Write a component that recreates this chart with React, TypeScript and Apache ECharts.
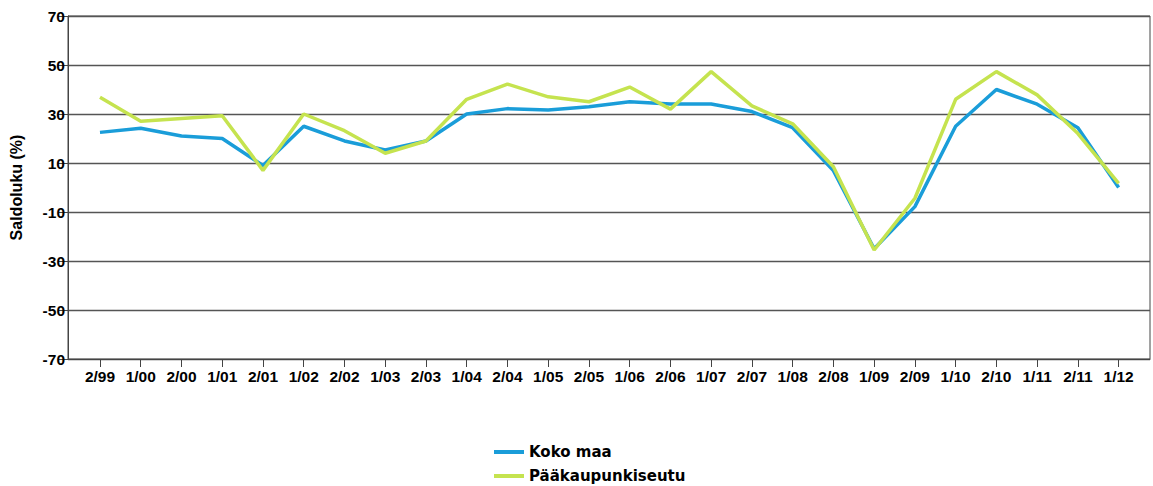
import React, { useEffect, useRef } from "react";
import * as echarts from "echarts";

const categories = ["2/99","1/00","2/00","1/01","2/01","1/02","2/02","1/03","2/03","1/04","2/04","1/05","2/05","1/06","2/06","1/07","2/07","1/08","2/08","1/09","2/09","1/10","2/10","1/11","2/11","1/12"];
const kokoMaa = [22.5, 24.2, 21, 20, 9, 25, 19, 15.3, 19, 30, 32.2, 31.6, 33, 35, 34.1, 34.1, 31, 24.4, 6.9, -25, -7.8, 25, 40, 34, 24.4, 0];
const paakaupunkiseutu = [36.8, 27, 28.2, 29.3, 7, 30, 23.2, 14, 19, 36, 42.2, 37, 35, 41, 32, 47.3, 33.3, 26, 8.5, -25.5, -4.4, 36, 47.3, 37.8, 22, 1.7];
const yTicks = [-70, -50, -30, -10, 10, 30, 50, 70];
const seriesNames = ["Koko maa", "Pääkaupunkiseutu"];

const axisFont = "'Liberation Sans', Arial, sans-serif";

export default function App() {
  const ref = useRef<HTMLDivElement>(null);
  useEffect(() => {
    document.body.style.margin = "0";
    const chart = echarts.init(ref.current!, null, { renderer: "svg" });
    const idx = categories.map((_, i) => i);
    chart.setOption({
      animation: false,
      backgroundColor: "#ffffff",
      grid: {
        left: 68, right: 3, top: 16, bottom: 127,
        show: true, borderColor: "#444", borderWidth: 1, containLabel: false,
      },
      legend: {
        orient: "vertical",
        left: 494,
        top: 443,
        bottom: 0,
        padding: 0,
        icon: "rect",
        itemWidth: 30,
        itemHeight: 4,
        itemGap: 6,
        data: seriesNames,
        textStyle: { fontFamily: "DejaVu Sans", fontWeight: "bold", fontSize: 15, lineHeight: 18, color: "#000" },
      },
      xAxis: {
        type: "value",
        min: -0.785,
        max: 25.77,
        splitLine: { show: false },
        axisLine: { show: true, onZero: false, lineStyle: { color: "#444", width: 1 } },
        axisTick: { show: true, customValues: idx, length: 8, lineStyle: { color: "#444" } },
        axisLabel: {
          customValues: idx,
          formatter: (v: number) => categories[Math.round(v)] ?? "",
          fontFamily: axisFont, fontWeight: "bold", fontSize: 15.5, color: "#000", margin: 9,
        },
      },
      yAxis: {
        type: "value",
        min: -70,
        max: 70,
        name: "Saldoluku (%)",
        nameLocation: "middle",
        nameGap: 44,
        nameTextStyle: { fontFamily: axisFont, fontWeight: "bold", fontSize: 16, color: "#000" },
        axisLine: { show: true, onZero: false, lineStyle: { color: "#444", width: 1 } },
        axisTick: { show: true, customValues: yTicks, length: 10, lineStyle: { color: "#444" } },
        axisLabel: {
          customValues: yTicks,
          fontFamily: axisFont, fontWeight: "bold", fontSize: 15.5, color: "#000", margin: 3,
        },
        splitLine: { show: true, lineStyle: { color: "#555", width: 1.3 } },
      },
      series: [
        {
          name: seriesNames[0], type: "line", showSymbol: false,
          data: kokoMaa.map((v, i) => [i, v]),
          lineStyle: { color: "#1a9dd9", width: 3.5 }, itemStyle: { color: "#1a9dd9" },
        },
        {
          name: seriesNames[1], type: "line", showSymbol: false,
          data: paakaupunkiseutu.map((v, i) => [i, v]),
          lineStyle: { color: "#c5e34f", width: 3.5 }, itemStyle: { color: "#c5e34f" },
        },
      ],
    });
    return () => chart.dispose();
  }, []);
  return <div ref={ref} style={{ width: 1153, height: 486 }} />;
}
